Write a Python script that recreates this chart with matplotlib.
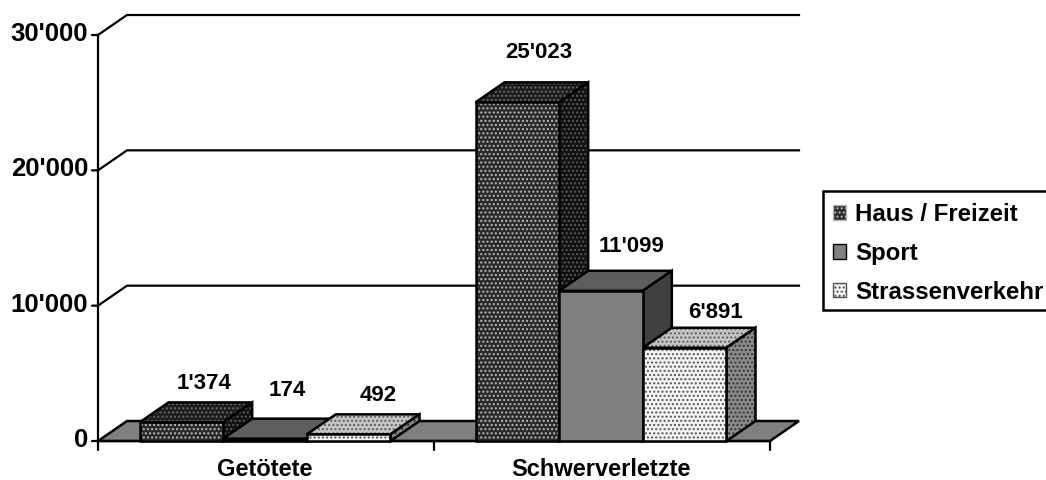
import matplotlib
matplotlib.use('Agg')
from matplotlib import pyplot as plt
from matplotlib.patches import Polygon, Patch, Rectangle

categories = ['Getötete', 'Schwerverletzte']
series = ['Haus / Freizeit', 'Sport', 'Strassenverkehr']
haus = [1374, 25023]
sport = [174, 11099]
strasse = [492, 6891]
y_ticks = [0, 10000, 20000, 30000]

W, H = 1046, 480
plt.rcParams['font.family'] = ['Liberation Sans', 'DejaVu Sans']
plt.rcParams['font.weight'] = 'bold'
plt.rcParams['hatch.linewidth'] = 1.0

fig = plt.figure(figsize=(W / 100, H / 100), dpi=100)
# axes box = front plane of the 3d chart
ax = fig.add_axes([98 / W, 1 - 441 / H, 672 / W, 406 / H])
ax.set_xlim(0, 2)
ax.set_ylim(0, 30000)
ax.axis('off')

# depth of the fake 3d, in data units
dx = 29 / 336
dy = 20 / 406 * 30000
bar_w = 0.249
group_shift = -1 / 336

def fmt(v):
    return f'{v:,}'.replace(',', "'")

def face(pts, color, hatch=None, hatch_col=None, z=3):
    if hatch:
        ax.add_patch(Polygon(pts, closed=True, facecolor=color, edgecolor=hatch_col,
                             hatch=hatch, linewidth=0, zorder=z, clip_on=False))
    else:
        ax.add_patch(Polygon(pts, closed=True, facecolor=color, linewidth=0, zorder=z, clip_on=False))
    ax.add_patch(Polygon(pts, closed=True, fill=False, edgecolor='black', linewidth=1.8,
                         joinstyle='miter', zorder=z, clip_on=False))

def bar3d(x, v, st, z):
    x2 = x + bar_w
    face([(x, v), (x + dx, v + dy), (x2 + dx, v + dy), (x2, v)], *st['top'], z=z)
    face([(x2, 0), (x2 + dx, dy), (x2 + dx, v + dy), (x2, v)], *st['side'], z=z)
    face([(x, 0), (x2, 0), (x2, v), (x, v)], *st['front'], z=z)

styles = [
    {'front': ('#2a2a2a', '....', '#b8b8b8'), 'top': ('#1c1c1c', '....', '#6a6a6a'), 'side': ('#111111', '....', '#5a5a5a')},
    {'front': ('#808080',), 'top': ('#5e5e5e',), 'side': ('#404040',)},
    {'front': ('#f4f4f4', '....', '#555555'), 'top': ('#c4c4c4', '....', '#5e5e5e'), 'side': ('#8a8a8a', '....', '#333333')},
]
values = [haus, sport, strasse]
# label shift from the bar's front top centre, pixels
label_shift = [[(23, 39), (21, 50)], [(22, 48), (31, 44)], [(30, 39), (31, 35)]]

# gridlines along back wall and left wall
for t in y_ticks[1:]:
    ax.plot([0, dx, 2 + dx], [t, t + dy, t + dy], color='black', lw=1.6, clip_on=False, zorder=1)

# floor
face([(0, 0), (dx, dy), (2 + dx, dy), (2, 0)], '#808080', z=2)

# axes
ax.plot([0, 0], [0, 30000], color='black', lw=1.6, clip_on=False, zorder=2)
ax.plot([0, 2], [0, 0], color='black', lw=1.6, clip_on=False, zorder=2)
for t in y_ticks:
    ax.annotate('', (0, t), xytext=(-6, 0), textcoords='offset pixels', annotation_clip=False,
                arrowprops=dict(arrowstyle='-', color='black', lw=1.6, shrinkA=0, shrinkB=0))
    ax.annotate(fmt(t), (0, t), xytext=(-10, 1), textcoords='offset pixels', ha='right',
                va='center', fontsize=18.5, annotation_clip=False)
for t in [0, 1, 2]:
    ax.annotate('', (t, 0), xytext=(0, -9), textcoords='offset pixels', annotation_clip=False,
                arrowprops=dict(arrowstyle='-', color='black', lw=1.6, shrinkA=0, shrinkB=0))
for i, c in enumerate(categories):
    ax.annotate(c, (i + 0.5, 0), xytext=(-1, -28), textcoords='offset pixels', ha='center',
                va='center', fontsize=17, annotation_clip=False)

# bars, left to right so the later ones cover the earlier sides
for g in range(len(categories)):
    x0 = g + 0.5 - 1.5 * bar_w + group_shift
    for s in range(len(series)):
        x = x0 + s * bar_w
        v = values[s][g]
        bar3d(x, v, styles[s], z=4 + g * 3 + s)
        ax.annotate(fmt(v), (x + bar_w / 2, v), xytext=label_shift[s][g], textcoords='offset pixels',
                    ha='center', va='center', fontsize=16, zorder=20, annotation_clip=False)

# legend frame runs off the right edge like in the original, so drawn by hand
fig.add_artist(Rectangle((823 / W, 1 - 310 / H), 240 / W, 119 / H, transform=fig.transFigure,
                         facecolor='white', edgecolor='black', linewidth=1.8, clip_on=False))
handles = [Patch(facecolor=st['front'][0], edgecolor='black' if len(st['front']) == 1 else st['front'][2],
                 hatch=st['front'][1] if len(st['front']) > 1 else None, linewidth=1)
           for st in styles]
leg = fig.legend(handles, series, loc='upper left', bbox_to_anchor=(833 / W, 1 - 203 / H),
                 bbox_transform=fig.transFigure, borderaxespad=0, fontsize=17.3, frameon=False,
                 handlelength=0.55, handleheight=0.55, handletextpad=0.38, labelspacing=0.66, borderpad=0)

fig.savefig('out.png', dpi=100)
